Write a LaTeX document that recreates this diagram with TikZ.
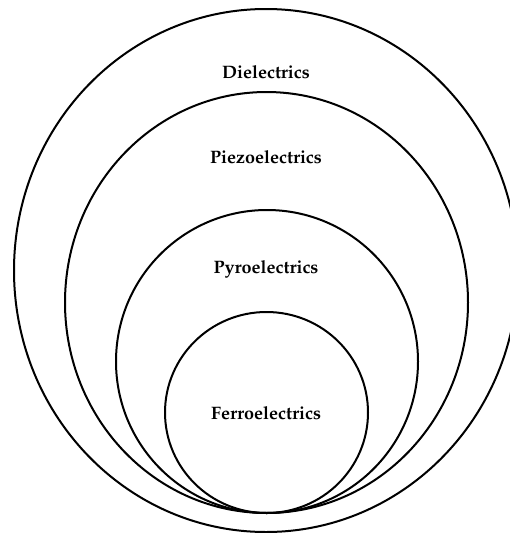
\documentclass[tikz,border=0pt]{standalone}
\usepackage[T1]{fontenc}
\usepackage{mathpazo}
\usetikzlibrary{shapes.geometric}
\begin{document}
\begin{tikzpicture}[x=1pt,y=-1pt,
  ring/.style={draw=black,line width=2pt,ellipse,inner sep=0pt,outer sep=0pt},
  lab/.style={font=\fontsize{18}{20}\selectfont\bfseries,anchor=base,inner sep=0pt}]
\clip (0,0) rectangle (510,533);
\fill[white] (0,0) rectangle (510,533);
\node[ring,minimum width=504pt,minimum height=523pt] (diel) at (266,270.5) {};
\node[ring,minimum width=403pt,minimum height=421pt] (piezo) at (266.5,302.5) {};
\node[ring,minimum width=302pt,minimum height=303pt] (pyro) at (267,361.5) {};
\node[ring,minimum width=203pt,minimum height=201pt] (ferro) at (266.5,412.5) {};
\node[lab] (tdiel) at (266,78.3) {Dielectrics};
\node[lab] (tpiezo) at (266,163.3) {Piezoelectrics};
\node[lab] (tpyro) at (266,273.5) {Pyroelectrics};
\node[lab] (tferro) at (266,419.3) {Ferroelectrics};
\end{tikzpicture}
\end{document}
